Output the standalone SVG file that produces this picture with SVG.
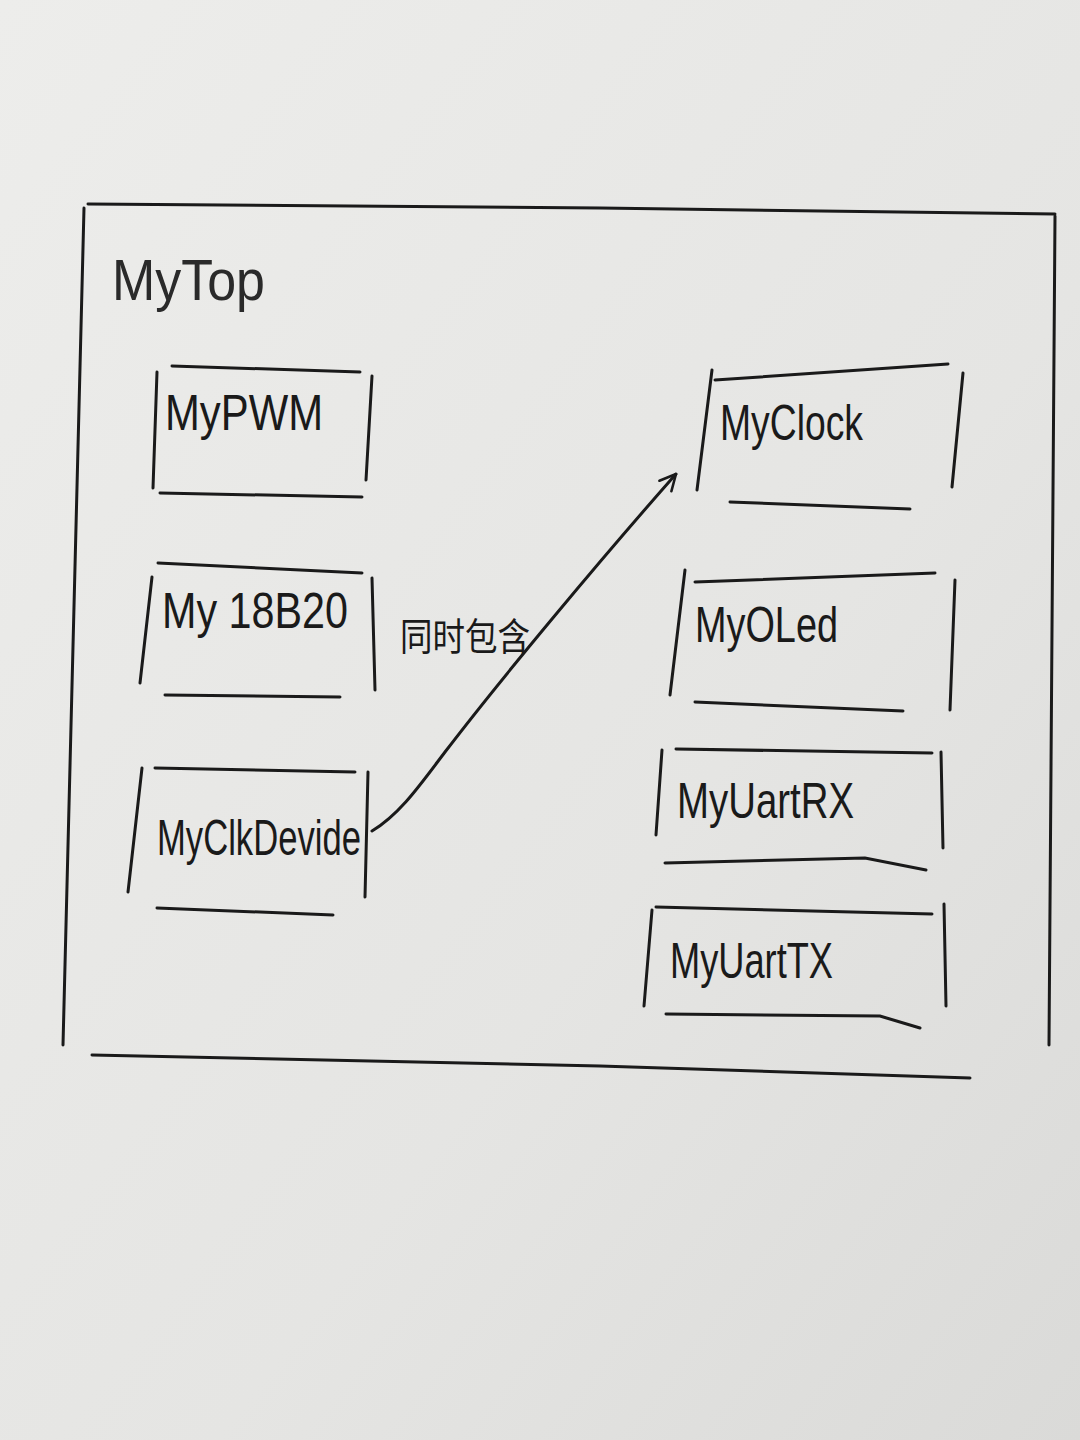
<svg xmlns="http://www.w3.org/2000/svg" width="1080" height="1440" viewBox="0 0 1080 1440">
<defs>
<linearGradient id="paper" x1="0" y1="0" x2="1" y2="1">
<stop offset="0" stop-color="#ededeb"/>
<stop offset="0.6" stop-color="#e5e5e3"/>
<stop offset="1" stop-color="#dadad8"/>
</linearGradient>
<marker id="arrow" viewBox="0 0 20 20" refX="18" refY="10" markerWidth="20" markerHeight="20" markerUnits="userSpaceOnUse" orient="auto">
<path d="M2,2 L18,10 L2,18" fill="none" stroke="#1a1a1a" stroke-width="2.6" stroke-linecap="round" stroke-linejoin="round"/>
</marker>
<style>
.ln{stroke:#1a1a1a;stroke-width:3;fill:none;stroke-linecap:round}
.lbl{font-family:"Liberation Sans","DejaVu Sans",sans-serif;font-size:50px;fill:#1a1a1a}
.top{font-family:"Liberation Sans","DejaVu Sans",sans-serif;font-size:58px;fill:#2a2a2a}
.cn{font-family:"Liberation Sans","Noto Sans CJK SC",sans-serif;font-size:38px;fill:#1a1a1a}
</style>
</defs>
<rect width="1080" height="1440" fill="url(#paper)"/>

<g id="MyTop">
<path class="ln" d="M88,204 L600,208 L1055,214"/>
<path class="ln" d="M84,208 L63,1045"/>
<path class="ln" d="M1055,216 L1049,1045"/>
<path class="ln" d="M92,1055 L600,1066 L970,1078"/>
<text class="top" x="112" y="300" textLength="153" lengthAdjust="spacingAndGlyphs">MyTop</text>
</g>

<g id="MyPWM">
<path class="ln" d="M172,366 L360,372"/>
<path class="ln" d="M157,372 L153,488"/>
<path class="ln" d="M372,376 L366,480"/>
<path class="ln" d="M160,493 L362,497"/>
<text class="lbl" x="165" y="430" textLength="158" lengthAdjust="spacingAndGlyphs">MyPWM</text>
</g>

<g id="My18B20">
<path class="ln" d="M158,563 L362,573"/>
<path class="ln" d="M152,577 L140,683"/>
<path class="ln" d="M372,578 L375,690"/>
<path class="ln" d="M165,695 L340,697"/>
<text class="lbl" x="162" y="628" textLength="186" lengthAdjust="spacingAndGlyphs">My 18B20</text>
</g>

<g id="MyClkDevide">
<path class="ln" d="M155,768 L355,772"/>
<path class="ln" d="M142,768 L128,892"/>
<path class="ln" d="M368,772 L365,897"/>
<path class="ln" d="M157,908 L333,915"/>
<text class="lbl" x="157" y="855" textLength="204" lengthAdjust="spacingAndGlyphs">MyClkDevide</text>
</g>

<g id="MyClock">
<path class="ln" d="M715,380 L948,364"/>
<path class="ln" d="M712,370 L697,490"/>
<path class="ln" d="M963,373 L952,487"/>
<path class="ln" d="M730,502 L910,509"/>
<text class="lbl" x="720" y="440" textLength="143" lengthAdjust="spacingAndGlyphs">MyClock</text>
</g>

<g id="MyOLed">
<path class="ln" d="M695,582 L935,573"/>
<path class="ln" d="M685,570 L670,695"/>
<path class="ln" d="M955,580 L950,710"/>
<path class="ln" d="M695,702 L903,711"/>
<text class="lbl" x="695" y="642" textLength="143" lengthAdjust="spacingAndGlyphs">MyOLed</text>
</g>

<g id="MyUartRX">
<path class="ln" d="M676,749 L932,753"/>
<path class="ln" d="M662,750 L656,835"/>
<path class="ln" d="M941,752 L943,848"/>
<path class="ln" d="M665,863 L865,858 L926,870"/>
<text class="lbl" x="677" y="818" textLength="177" lengthAdjust="spacingAndGlyphs">MyUartRX</text>
</g>

<g id="MyUartTX">
<path class="ln" d="M656,907 L932,914"/>
<path class="ln" d="M652,910 L644,1006"/>
<path class="ln" d="M944,904 L946,1006"/>
<path class="ln" d="M666,1014 L880,1016 L920,1028"/>
<text class="lbl" x="670" y="978" textLength="163" lengthAdjust="spacingAndGlyphs">MyUartTX</text>
</g>

<g id="connectors">
<path class="ln" d="M372,831 C400,814 420,785 445,752 C500,680 600,560 676,474" marker-end="url(#arrow)"/>
<text class="cn" x="400" y="650" textLength="130" lengthAdjust="spacingAndGlyphs">同时包含</text>
</g>
</svg>
